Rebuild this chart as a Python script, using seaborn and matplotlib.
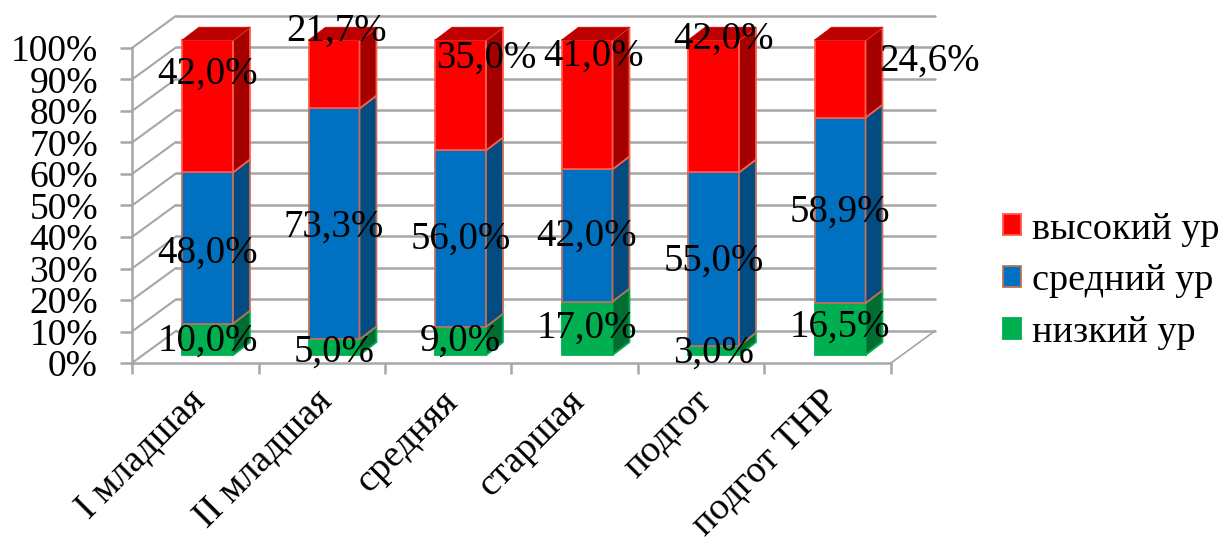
import matplotlib
matplotlib.use('Agg')
import matplotlib.pyplot as plt
import seaborn as sns
from matplotlib.ticker import PercentFormatter

# Data
groups = ['I младшая', 'II младшая', 'средняя', 'старшая', 'подгот', 'подгот ТНР']
low = [10.0, 5.0, 9.0, 17.0, 3.0, 16.5]
mid = [48.0, 73.3, 56.0, 42.0, 55.0, 58.9]
high = [42.0, 21.7, 35.0, 41.0, 42.0, 24.6]
series_names = ['низкий ур', 'средний ур', 'высокий ур']

# Style of each series: front, side, top, edge
colors = [
    ('#00B050', '#006E32', '#00B050', '#00B050'),
    ('#0070C0', '#024C82', '#0070C0', '#C0705A'),
    ('#FF0000', '#A50000', '#BF0000', '#FF5A4A'),
]

# Manually moved data labels in the original (pixels from the segment centre)
label_shift = [
    [(0, -2), (0, -5), (0, 32)],
    [(0, -5), (0, -3), (3, 43)],
    [(0, 0), (0, -1), (26, 37)],
    [(0, 0), (0, -1), (7, 49)],
    [(0, -3), (0, -2), (10, 67)],
    [(0, 2), (0, -2), (90, 18)],
]

# Fake 3D in data units
wall_dx, wall_dy = 0.348, 10.2
bar_lift_x, bar_lift_y = 0.097, 2.5
bar_dx, bar_dy = 0.134, 4.1
grid_col = '#A6A6A6'

sns.set_style('white')
plt.rcParams['font.family'] = ['Liberation Serif', 'DejaVu Serif']
plt.rcParams['text.color'] = 'black'

fig = plt.figure(figsize=(12.25, 5.47), dpi=100)
ax = fig.add_axes([132 / 1225, (547 - 363) / 547, 759 / 1225, 315 / 547])

# Bars
series = [low, mid, high]
bottoms = [0.0] * len(groups)
for k, values in enumerate(series):
    front, side, top, edge = colors[k]
    n_before = len(ax.patches)
    lifted = [b + bar_lift_y for b in bottoms]
    sns.barplot(x=groups, y=values, bottom=lifted, color=front, width=0.403,
                saturation=1, edgecolor=edge, linewidth=1.3, label=series_names[k],
                zorder=3 + k, clip_on=False, ax=ax)
    for i, patch in enumerate(ax.patches[n_before:]):
        patch.set_x(patch.get_x() + bar_lift_x)
        x0, x1 = patch.get_x(), patch.get_x() + patch.get_width()
        y0, y1 = patch.get_y(), patch.get_y() + patch.get_height()
        ax.fill([x1, x1 + bar_dx, x1 + bar_dx, x1],
                [y0, y0 + bar_dy, y1 + bar_dy, y1],
                facecolor=side, edgecolor=edge, linewidth=1.3, zorder=3 + k, clip_on=False)
        if k == 2:
            ax.fill([x0, x1, x1 + bar_dx, x0 + bar_dx],
                    [y1, y1, y1 + bar_dy, y1 + bar_dy],
                    facecolor=top, edgecolor=top, linewidth=0.5, zorder=6, clip_on=False)
        dx_px, dy_px = label_shift[i][k]
        ax.annotate(f'{values[i]:.1f}%'.replace('.', ','),
                    xy=((x0 + x1) / 2, (y0 + y1) / 2), xytext=(dx_px * 0.72, dy_px * 0.72),
                    textcoords='offset points', ha='center', va='center',
                    fontsize=28, color='black', zorder=10, annotation_clip=False)
    bottoms = [b + v for b, v in zip(bottoms, values)]

# Walls and floor
ticks = list(range(0, 101, 10))
left, right = -0.5, 5.5
ax.set_xlim(left, right)
ax.set_ylim(0, 100)
for t in ticks:
    ax.plot([left + wall_dx, right + wall_dx], [t + wall_dy, t + wall_dy],
            color=grid_col, lw=1.8, zorder=1, clip_on=False)
    ax.plot([left, left + wall_dx], [t, t + wall_dy],
            color=grid_col, lw=1.5, zorder=1, clip_on=False)
ax.plot([right, right + wall_dx], [0, wall_dy], color=grid_col, lw=1.2, zorder=1, clip_on=False)

# Axes
sns.despine(ax=ax, top=True, right=True)
for side_name in ['left', 'bottom']:
    ax.spines[side_name].set_color(grid_col)
    ax.spines[side_name].set_linewidth(1.8)
ax.patch.set_alpha(0)
ax.set_yticks(ticks)
ax.yaxis.set_major_formatter(PercentFormatter(decimals=0))
ax.tick_params(axis='y', left=True, length=8.5, width=1.8, color=grid_col, pad=16, labelsize=27, labelcolor='black')
ax.set_xticks([j - 0.06 for j in range(len(groups))], groups, rotation=45, ha='right', rotation_mode='anchor')
ax.set_xticks([left + j for j in range(len(groups) + 1)], minor=True)
ax.tick_params(axis='x', which='major', length=0, pad=15, labelsize=27.5, labelcolor='black')
ax.tick_params(axis='x', which='minor', bottom=True, length=8, width=1.8, color=grid_col)
ax.set_xlabel('')
ax.set_ylabel('')

# Legend
handles, labels = ax.get_legend_handles_labels()
ax.legend(handles[::-1], labels[::-1], loc='center left', bbox_to_anchor=(1003 / 1225, (547 - 281) / 547),
          bbox_transform=fig.transFigure, frameon=False, fontsize=27.5, handlelength=0.47,
          handleheight=0.47, handletextpad=0.3, labelspacing=0.45, borderpad=0, borderaxespad=0,
          labelcolor='black')

fig.savefig('out.png', dpi=100)
plt.close(fig)
